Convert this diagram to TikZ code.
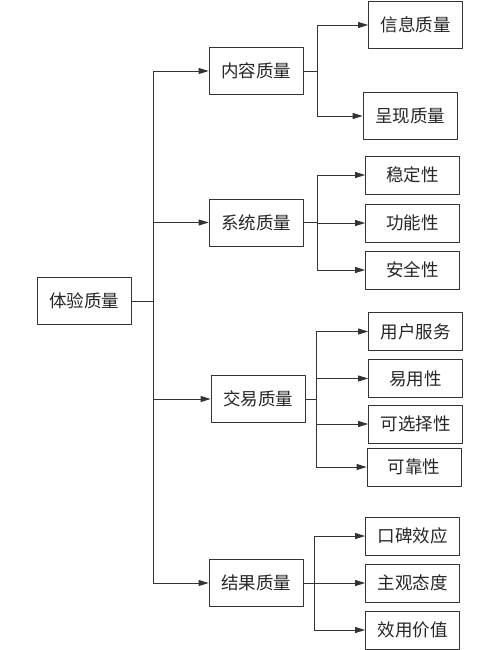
\documentclass[tikz,border=0pt]{standalone}
\usepackage{fontspec}
\newfontfamily\cjk{Noto Sans CJK SC}
\usetikzlibrary{arrows.meta}
\tikzset{
  box/.style={draw=black!80, line width=0.8pt, minimum width=94pt, minimum height=38pt, inner sep=0pt, text=black!85},
  tallbox/.style={box, minimum height=47pt},
  link/.style={draw=black!80, line width=0.8pt}
}
\begin{document}
\begin{tikzpicture}[x=1pt, y=-1pt, line join=round, >={Triangle[length=10pt,width=6pt]}, font=\cjk\fontsize{17.5}{20}\selectfont]
\useasboundingbox (0,0) rectangle (500,650);
% root and second level
\node[tallbox] (root) at (84,301) {体验质量};
\foreach \n/\x/\y/\t in {nr/256/71/内容质量, xt/256/222.5/系统质量, jy/258/399/交易质量, jg/256/583/结果质量}
  \node[tallbox] (\n) at (\x,\y) {\t};
% leaves
\node[tallbox] (xx) at (415.5,25) {信息质量};
\node[tallbox] (cx) at (410,116) {呈现质量};
\foreach \n/\x/\y/\t in {wd/412.5/175/稳定性, gn/412.5/223/功能性, aq/412.5/270/安全性, yh/415.5/331.5/用户服务, yy/415.5/378.5/易用性, kx/415.5/424/可选择性, kk/414/467/可靠性, kb/412.5/536/口碑效应, zg/412.5/583/主观态度, xy/412.5/630/效用价值}
  \node[box] (\n) at (\x,\y) {\t};
% trunk
\coordinate (tr) at (153,301);
\draw[link] (root.east) -- (tr);
\draw[link] (tr |- nr.west) -- (tr |- jg.west);
\foreach \m in {nr,xt,jy,jg} \draw[link,->] (tr |- \m.west) -- (\m.west);
% branches
\coordinate (bnr) at (317,71);
\draw[link] (nr.east) -- (bnr);
\draw[link] (bnr |- xx.west) -- (bnr |- cx.west);
\foreach \l in {xx,cx} \draw[link,->] (bnr |- \l.west) -- (\l.west);
\coordinate (bxt) at (317,222.5);
\draw[link] (xt.east) -- (bxt);
\draw[link] (bxt |- wd.west) -- (bxt |- aq.west);
\foreach \l in {wd,gn,aq} \draw[link,->] (bxt |- \l.west) -- (\l.west);
\coordinate (bjy) at (316,399);
\draw[link] (jy.east) -- (bjy);
\draw[link] (bjy |- yh.west) -- (bjy |- kk.west);
\foreach \l in {yh,yy,kx,kk} \draw[link,->] (bjy |- \l.west) -- (\l.west);
\coordinate (bjg) at (314,583);
\draw[link] (jg.east) -- (bjg);
\draw[link] (bjg |- kb.west) -- (bjg |- xy.west);
\foreach \l in {kb,zg,xy} \draw[link,->] (bjg |- \l.west) -- (\l.west);
\end{tikzpicture}
\end{document}
